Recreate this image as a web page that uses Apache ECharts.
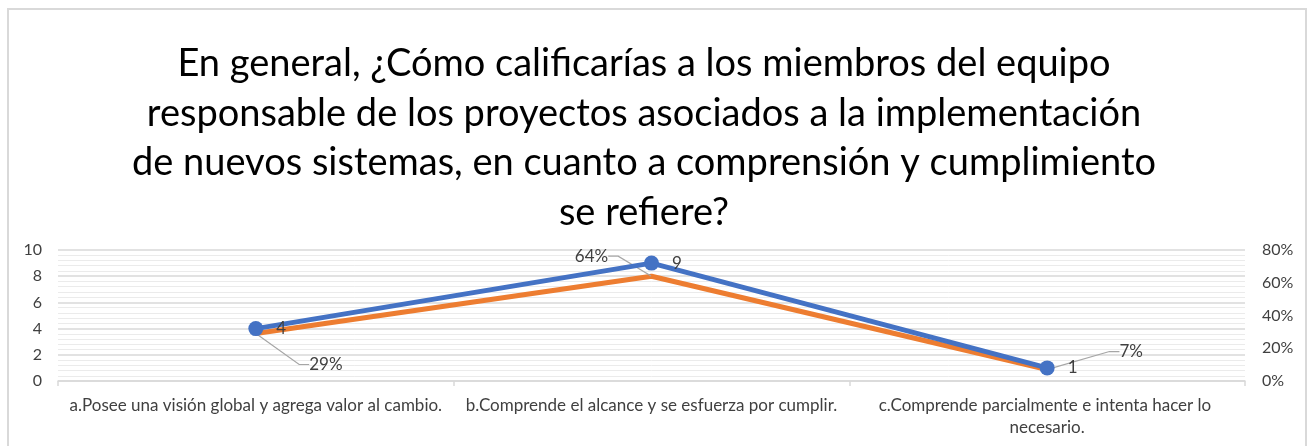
<!DOCTYPE html>
<html>
<head>
<meta charset="utf-8">
<script src="https://cdn.jsdelivr.net/npm/echarts@6/dist/echarts.min.js"></script>
<style>
  html, body { margin: 0; padding: 0; background: #ffffff; }
  #chart { width: 1308px; height: 446px; }
</style>
</head>
<body>
<div id="chart"></div>
<script>
// Survey question and answers
const titleLines = [
  'En general, ¿Cómo calificarías a los miembros del equipo',
  'responsable de los proyectos asociados a la implementación',
  'de nuevos sistemas, en cuanto a comprensión y cumplimiento',
  'se refiere?'
];
const categories = [
  'a.Posee una visión global y agrega valor al cambio.',
  'b.Comprende el alcance y se esfuerza por cumplir.',
  'c.Comprende parcialmente e intenta hacer lo necesario.'
];
// Number of answers per option
const counts = [4, 9, 1];
// Share of answers per option (%)
const shares = [29, 64, 7];
// Axis tick labels
const countTicks = [0, 2, 4, 6, 8, 10];
const shareTicks = [0, 20, 40, 60, 80];

// Offsets of the percentage labels from their points, with leader lines
const shareLabelShift = [
  { dx: 70, dy: 31 },
  { dx: -60, dy: -20 },
  { dx: 84, dy: -18 }
];

const FONT = 'Lato';
const chart = echarts.init(document.getElementById('chart'), null, { renderer: 'canvas' });

chart.setOption({
  backgroundColor: '#ffffff',
  animation: false,
  textStyle: { fontFamily: FONT },
  graphic: [{
    type: 'rect',
    shape: { x: 8, y: 9, width: 1298, height: 460 },
    style: { fill: 'none', stroke: '#d9d9d9', lineWidth: 2 },
    silent: true
  }],
  title: {
    text: titleLines.join('\n'),
    left: 639,
    top: 34,
    textAlign: 'center',
    textStyle: {
      fontFamily: FONT,
      fontWeight: 'normal',
      fontSize: 38,
      lineHeight: 49.5,
      color: '#000000'
    }
  },
  grid: { left: 58, right: 63, top: 250, bottom: 65, containLabel: false },
  xAxis: {
    type: 'category',
    data: categories,
    boundaryGap: true,
    axisLine: { lineStyle: { color: '#d9d9d9', width: 1.5 } },
    axisTick: { show: true, length: 5, lineStyle: { color: '#d9d9d9', width: 1.5 } },
    axisLabel: {
      color: '#404040',
      fontFamily: FONT,
      fontSize: 17,
      margin: 14,
      lineHeight: 22,
      width: 385,
      overflow: 'break',
      interval: 0
    }
  },
  yAxis: [{
    type: 'value',
    min: countTicks[0],
    max: countTicks[countTicks.length - 1],
    interval: 2,
    axisLine: { show: false },
    axisTick: { show: false },
    axisLabel: { color: '#404040', fontFamily: FONT, fontSize: 16, margin: 16 },
    splitLine: { show: true, lineStyle: { color: '#d9d9d9', width: 1.5 } },
    minorTick: { show: false, splitNumber: 5 },
    minorSplitLine: { show: true, lineStyle: { color: '#ebebeb', width: 1 } }
  }, {
    type: 'value',
    min: shareTicks[0],
    max: shareTicks[shareTicks.length - 1],
    interval: 20,
    position: 'right',
    axisLine: { show: false },
    axisTick: { show: false },
    axisLabel: {
      color: '#404040', fontFamily: FONT, fontSize: 16, margin: 17,
      formatter: v => v + '%'
    },
    splitLine: { show: false }
  }],
  series: [{
    name: 'Respuestas',
    type: 'line',
    yAxisIndex: 0,
    data: counts,
    z: 3,
    symbol: 'circle',
    symbolSize: 15,
    lineStyle: { color: '#4472c4', width: 5 },
    itemStyle: { color: '#4472c4' },
    label: {
      show: true,
      position: 'right',
      distance: 13,
      color: '#404040',
      fontFamily: FONT,
      fontSize: 17
    }
  }, {
    name: 'Porcentaje',
    type: 'line',
    yAxisIndex: 1,
    data: shares,
    z: 2,
    symbol: 'circle',
    symbolSize: 1,
    lineStyle: { color: '#ed7d31', width: 5 },
    itemStyle: { color: '#ed7d31' },
    label: {
      show: true,
      position: 'inside',
      formatter: p => p.value + '%',
      color: '#404040',
      fontFamily: FONT,
      fontSize: 17
    },
    labelLine: {
      show: true,
      length2: 10,
      lineStyle: { color: '#a6a6a6', width: 1.2 }
    },
    labelLayout: p => shareLabelShift[p.dataIndex]
  }]
});
</script>
</body>
</html>
